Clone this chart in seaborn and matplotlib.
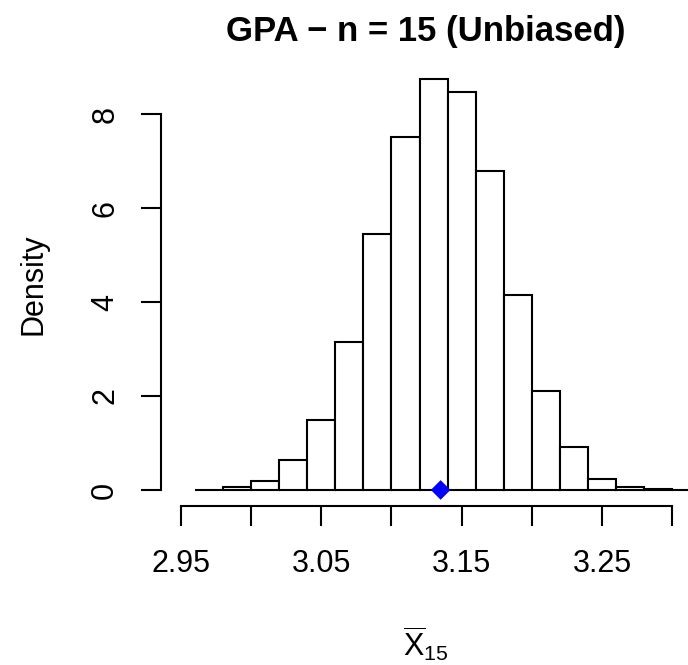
import numpy as np
import pandas as pd
import matplotlib
matplotlib.use("Agg")
import matplotlib.pyplot as plt
import seaborn as sns

# Sampling distribution of the mean GPA for samples of size 15
bin_edges = [2.96, 2.98, 3.00, 3.02, 3.04, 3.06, 3.08, 3.10, 3.12, 3.14,
             3.16, 3.18, 3.20, 3.22, 3.24, 3.26, 3.28, 3.30, 3.32]
densities = [0.005, 0.07, 0.18, 0.64, 1.49, 3.15, 5.45, 7.52, 8.74, 8.46,
             6.79, 4.15, 2.11, 0.91, 0.23, 0.06, 0.01, 0.005]
mean_value = [3.135]
x_ticks = [2.95, 3.00, 3.05, 3.10, 3.15, 3.20, 3.25, 3.30]
x_tick_labels = ["2.95", "", "3.05", "", "3.15", "", "3.25", ""]
y_ticks = [0, 2, 4, 6, 8]
title = "GPA \u2212 n = 15 (Unbiased)"

sns.set_theme(style="white")
plt.rcParams["font.family"] = ["Liberation Sans", "DejaVu Sans"]
plt.rcParams["mathtext.fontset"] = "custom"
plt.rcParams["mathtext.rm"] = "Liberation Sans"
plt.rcParams["mathtext.it"] = "Liberation Sans:italic"
plt.rcParams["text.color"] = "black"
plt.rcParams["axes.labelcolor"] = "black"

centers = [(a + b) / 2 for a, b in zip(bin_edges[:-1], bin_edges[1:])]
hist_df = pd.DataFrame({"center": centers, "density": densities})

fig = plt.figure(figsize=(6.88, 6.65), dpi=100)
ax = fig.add_axes([0.234, 0.2385, 0.769, 0.667])

sns.histplot(data=hist_df, x="center", weights="density", bins=bin_edges,
             stat="count", color="white", edgecolor="black", linewidth=1.5,
             alpha=1, ax=ax)
sns.scatterplot(x=mean_value, y=[0], marker="D", s=100, color="blue",
                edgecolor="none", ax=ax, zorder=5, clip_on=False)

ax.set_xlim(2.936, 3.3125)
ax.set_ylim(-0.35, 9.09)

for side in ["top", "right"]:
    ax.spines[side].set_visible(False)
for side in ["left", "bottom"]:
    ax.spines[side].set_color("black")
    ax.spines[side].set_linewidth(1.5)
ax.spines["bottom"].set_bounds(2.95, 3.30)
ax.spines["left"].set_bounds(0, 8)

ax.set_xticks(x_ticks)
ax.set_xticklabels(x_tick_labels)
ax.set_yticks(y_ticks)
ax.set_yticklabels([str(v) for v in y_ticks], rotation=90, va="center")
ax.tick_params(axis="both", direction="out", length=14.4, width=1.5,
               color="black", labelsize=22, labelcolor="black",
               left=True, bottom=True)
ax.tick_params(axis="x", pad=16)
ax.tick_params(axis="y", pad=15)

ax.set_xlabel(r"$\overline{\mathrm{X}}_{15}$", fontsize=22, labelpad=33,
              color="black")
ax.set_ylabel("Density", fontsize=22, labelpad=30, color="black")
ax.set_title(title, fontsize=25, fontweight="bold", pad=16, color="black")
ax.grid(False)

fig.savefig("out.png", dpi=100)
